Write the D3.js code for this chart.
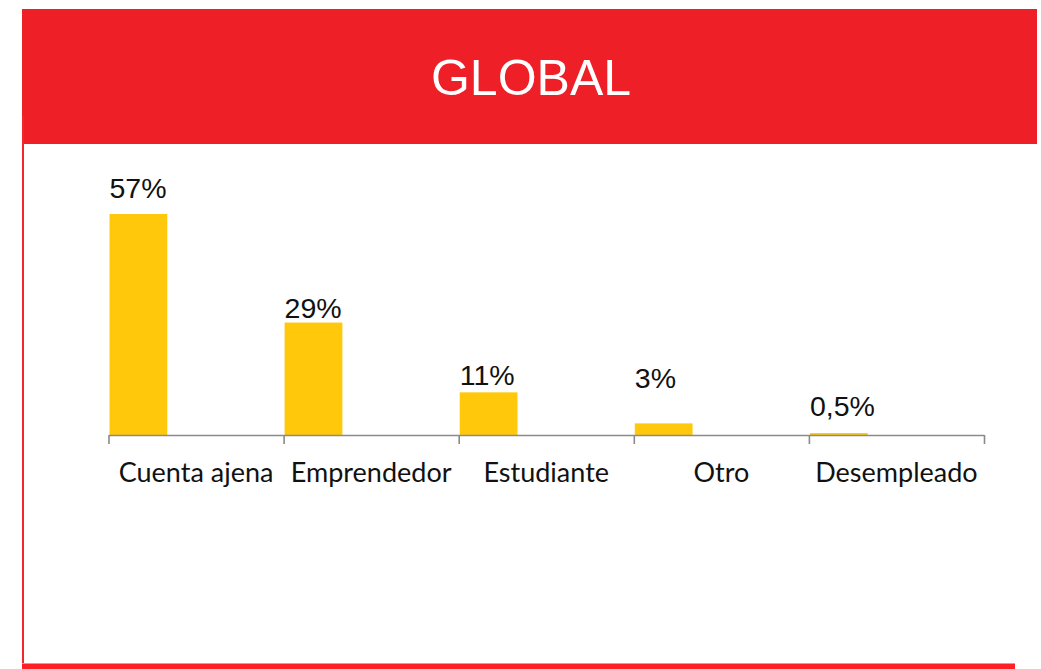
<!DOCTYPE html>
<html>
<head>
<meta charset="utf-8">
<script src="https://cdn.jsdelivr.net/npm/d3@7"></script>
<style>
  body { margin: 0; background: #fff; }
</style>
</head>
<body>
<svg id="chart"></svg>
<script>
// Situacion laboral - GLOBAL

const title = "GLOBAL";
const categories = ["Cuenta ajena", "Emprendedor", "Estudiante", "Otro", "Desempleado"];
const values = [57, 29, 11, 3, 0.5];
const valueLabels = ["57%", "29%", "11%", "3%", "0,5%"];

// how far each value label sits above its bar (placed by hand in the original)
const labelLift = [16, 5, 7, 35, 17];

const width = 1041, height = 669;
const red = "#ee1f26";

const svg = d3.select("#chart")
    .attr("width", width)
    .attr("height", height);

// frame: header band, left rule, bottom rule
svg.append("rect")
    .attr("x", 22).attr("y", 9)
    .attr("width", 1015).attr("height", 135)
    .attr("fill", red);

svg.append("rect")
    .attr("x", 22).attr("y", 116)
    .attr("width", 2).attr("height", 552)
    .attr("fill", "#f2262d");

svg.append("rect")
    .attr("x", 22).attr("y", 663)
    .attr("width", 993).attr("height", 1)
    .attr("fill", "#ff8a8e");

svg.append("rect")
    .attr("x", 22).attr("y", 664)
    .attr("width", 993).attr("height", 5)
    .attr("fill", "#ff1f26");

svg.append("text")
    .attr("x", 531)
    .attr("y", 95)
    .attr("text-anchor", "middle")
    .attr("fill", "#fff")
    .style("font-family", "'Liberation Sans', Arial, sans-serif")
    .style("font-size", "50px")
    .text(title);

// scales
const plotLeft = 108.5, plotRight = 984, baseY = 435;

const x = d3.scaleBand()
    .domain(categories)
    .range([plotLeft, plotRight])
    .paddingInner(0)
    .paddingOuter(0);

const y = d3.scaleLinear()
    .domain([0, 60])
    .range([baseY, baseY - 60 * 3.877]);

const barW = x.bandwidth() * 0.33;

// bars
svg.selectAll(".bar")
    .data(values)
    .join("rect")
    .attr("class", "bar")
    .attr("x", (d, i) => x(categories[i]) + 1)
    .attr("y", d => y(d))
    .attr("width", barW)
    .attr("height", d => baseY - y(d))
    .attr("fill", "#ffc80a");

// value labels
svg.selectAll(".val")
    .data(values)
    .join("text")
    .attr("class", "val")
    .attr("x", (d, i) => x(categories[i]) + 1)
    .attr("y", (d, i) => y(d) - labelLift[i])
    .attr("fill", "#111")
    .style("font-family", "'Liberation Sans', Arial, sans-serif")
    .style("font-size", "28.5px")
    .text((d, i) => valueLabels[i]);

// axis with ticks on the category boundaries
const edges = d3.scaleLinear()
    .domain([0, categories.length])
    .range([plotLeft, plotRight]);

const axis = svg.append("g")
    .attr("transform", `translate(0,${baseY})`)
    .call(d3.axisBottom(edges)
        .ticks(categories.length)
        .tickSize(9)
        .tickSizeOuter(0)
        .tickFormat(""));

axis.select(".domain").attr("stroke", "#8a8a8a").attr("stroke-width", 1.6);
axis.selectAll(".tick line").attr("stroke", "#8a8a8a").attr("stroke-width", 1.6);

// category labels
svg.selectAll(".cat")
    .data(categories)
    .join("text")
    .attr("class", "cat")
    .attr("x", d => x(d) + x.bandwidth() / 2)
    .attr("y", 482)
    .attr("text-anchor", "middle")
    .attr("fill", "#111")
    .style("font-family", "Lato, 'Open Sans', sans-serif")
    .style("font-size", "27px")
    .text(d => d);
</script>
</body>
</html>
